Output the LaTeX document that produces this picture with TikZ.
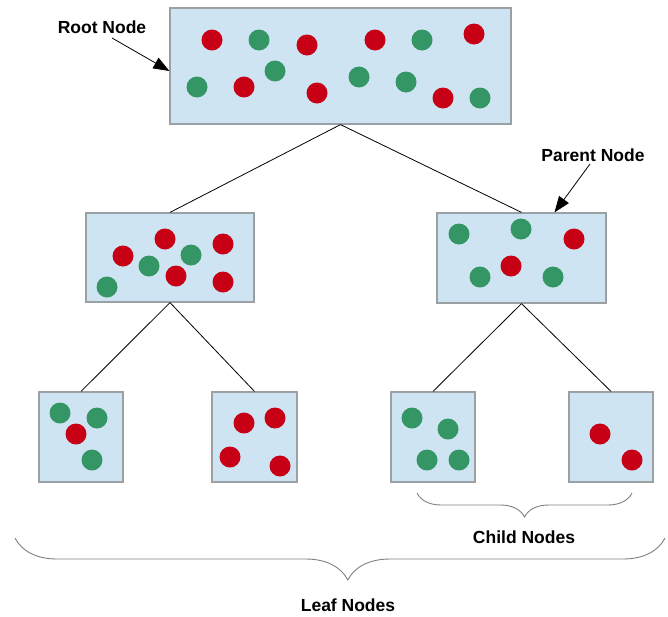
\documentclass[tikz,border=0pt]{standalone}
\usepackage{fontspec}
\setmainfont{Liberation Sans}
\usetikzlibrary{arrows.meta,decorations.pathreplacing}
\definecolor{boxblue}{RGB}{207,228,243}
\definecolor{boxline}{RGB}{155,160,165}
\definecolor{dotred}{RGB}{200,0,22}
\definecolor{dotgreen}{RGB}{52,150,100}
\begin{document}
\begin{tikzpicture}[x=1pt, y=-1pt,
    box/.style={draw=boxline, fill=boxblue, line width=1.2pt, inner sep=0pt},
    tag/.style={font=\fontsize{17.5}{20}\selectfont\bfseries},
    pointer/.style={-{Triangle[length=16pt,width=12pt]}, line width=0.8pt},
    link/.style={line width=0.8pt},
    curly/.style={draw=gray, line width=0.9pt, decorate, decoration={brace, mirror, amplitude=#1}}]
    \useasboundingbox (0,0) rectangle (668,616);
    % boxes
    \node[box, minimum width=341pt, minimum height=116pt] (root) at (340.5,66) {};
    \node[box, minimum width=168pt, minimum height=89pt] (lp) at (170,257.5) {};
    \node[box, minimum width=169pt, minimum height=90pt] (rp) at (521.5,258) {};
    \node[box, minimum width=84pt, minimum height=90pt] (leafa) at (81,437) {};
    \node[box, minimum width=85pt, minimum height=90pt] (leafb) at (254.5,437) {};
    \node[box, minimum width=84pt, minimum height=90pt] (leafc) at (433,437) {};
    \node[box, minimum width=84pt, minimum height=90pt] (leafd) at (611,437) {};
    % links
    \draw[link] (root.south) -- (lp.north);
    \draw[link] (root.south) -- (rp.north);
    \draw[link] (lp.south) -- (leafa.north);
    \draw[link] (lp.south) -- (leafb.north);
    \draw[link] (rp.south) -- (leafc.north);
    \draw[link] (rp.south) -- (leafd.north);
    % dots
    \foreach \x/\y in {212/40, 307/45, 244/87, 317/93, 375/40, 474/34, 443/98,
        123/256, 165/239, 223/244, 176/276, 223/282, 574/239, 511/266,
        76/434, 244/423, 275/418, 230/457, 280/466, 600/434, 632/460}
        \fill[dotred] (\x,\y) circle (10.5pt);
    \foreach \x/\y in {259/40, 275/71, 197/87, 422/40, 359/77, 406/82, 480/98,
        149/266, 191/255, 107/287, 459/234, 521/229, 480/277, 553/277,
        60/413, 97/418, 92/460, 412/418, 448/429, 427/460, 459/460}
        \fill[dotgreen] (\x,\y) circle (10.5pt);
    % labels
    \node[tag] (rootlbl) at (102,27) {Root Node};
    \node[tag] (parentlbl) at (593,155) {Parent Node};
    \node[tag] (childlbl) at (524,537) {Child Nodes};
    \node[tag] (leaflbl) at (348,605) {Leaf Nodes};
    \draw[pointer] ([xshift=10pt,yshift=-1pt]rootlbl.south) -- ([yshift=-5pt]root.west);
    \draw[pointer] ([xshift=-3pt,yshift=1pt]parentlbl.south) -- ([xshift=33pt]rp.north);
    % braces
    \coordinate (childa) at (417,493);
    \coordinate (childb) at (632,493);
    \coordinate (leafl) at (15,538);
    \coordinate (leafr) at (665,538);
    \draw[curly=24pt] (childa) -- (childb);
    \draw[curly=42pt, decoration={aspect=0.512}] (leafl) -- (leafr);
\end{tikzpicture}
\end{document}
